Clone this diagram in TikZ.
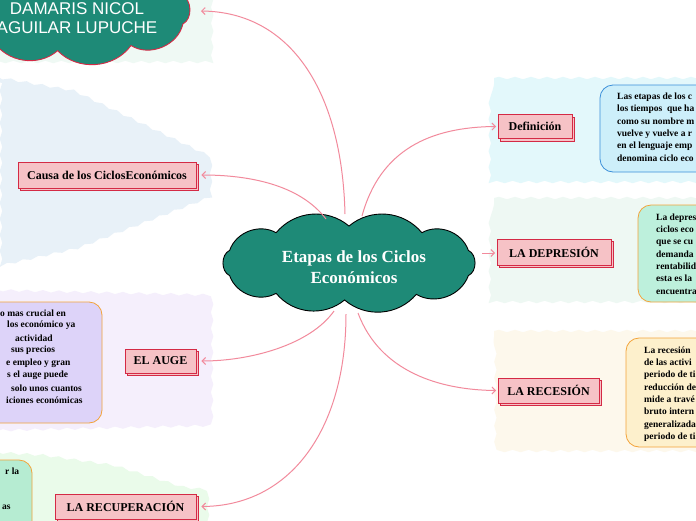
\documentclass[tikz,border=0pt]{standalone}
\usepackage{fontspec}
\setmainfont{Liberation Serif}
\newfontfamily\arialf{Liberation Sans}
\usetikzlibrary{shadows,arrows.meta,decorations.pathmorphing}
\definecolor{tealc}{HTML}{1E8A77}
\definecolor{boxpink}{HTML}{F6C2C6}
\definecolor{boxred}{HTML}{D42A45}
\definecolor{connc}{HTML}{F28A9C}
\definecolor{bgA}{HTML}{EFF9F4}
\definecolor{bgB}{HTML}{E8F1F8}
\definecolor{bgC}{HTML}{E3F8FB}
\definecolor{bgD}{HTML}{EEF8F3}
\definecolor{bgE}{HTML}{FDF8EC}
\definecolor{bgF}{HTML}{F5EFFC}
\definecolor{bgG}{HTML}{EAFBEA}
\definecolor{defFill}{HTML}{CDEFFA}
\definecolor{defLine}{HTML}{3B8FD9}
\definecolor{depFill}{HTML}{BDF0DC}
\definecolor{recFill}{HTML}{FDF0CC}
\definecolor{augFill}{HTML}{DDD3F9}
\definecolor{rcpFill}{HTML}{B6ECD2}
\definecolor{orangeLine}{HTML}{F3A33A}
\tikzset{
  region/.style={decorate, decoration={snake, amplitude=1.2pt, segment length=16pt}},
  pinkbox/.style={draw=boxred, fill=boxpink, line width=0.8pt, inner sep=0pt,
    font=\bfseries\fontsize{12}{14}\selectfont,
    copy shadow={shadow xshift=2.5pt, shadow yshift=-2.5pt}},
  conn/.style={draw=connc, line width=1pt, -{Straight Barb[length=3.5pt,width=7pt]}},
  descbox/.style={rounded corners=13pt, line width=0.8pt},
  desc/.style={font=\bfseries\fontsize{9.5}{12.3}\selectfont, align=left, inner sep=0pt},
  cloudline/.style={fill=tealc, line width=0.9pt},
}
\begin{document}
\begin{tikzpicture}[x=1pt,y=-1pt]
\useasboundingbox (0,0) rectangle (696,520);
\clip (0,0) rectangle (696,520);
\fill[white] (0,0) rectangle (696,520);
% background regions
\fill[bgA, region] (-10,-10) -- (206,-10) -- (206,62) -- (-10,62) -- cycle;
\fill[bgB, region] (-10,76) -- (70,90) -- (205,155) -- (205,198) -- (70,250) -- (-10,268) -- cycle;
\fill[bgC, region] (494,78) -- (706,78) -- (706,180) -- (494,180) -- cycle;
\fill[bgD, region] (494,198) -- (706,198) -- (706,300) -- (494,300) -- cycle;
\fill[bgE, region] (494,331) -- (706,331) -- (706,447) -- (494,447) -- cycle;
\fill[bgF, region] (-10,290) -- (206,295) -- (206,420) -- (-10,425) -- cycle;
\fill[bgG, region] (-10,452) -- (40,455) -- (110,465) -- (180,487) -- (206,490) -- (206,530) -- (-10,530) -- cycle;
% description boxes
\draw[descbox, fill=defFill, draw=defLine] (600,85) rectangle (730,172);
\draw[descbox, fill=depFill, draw=orangeLine] (638,205) rectangle (730,302);
\draw[descbox, fill=recFill, draw=orangeLine] (626,338) rectangle (730,447);
\draw[descbox, fill=augFill, draw=orangeLine] (-30,302) rectangle (102,423);
\draw[descbox, fill=rcpFill, draw=orangeLine] (-30,460) rectangle (32,545);
\node[desc, anchor=west] (tdef) at (617,127) {Las etapas de los c\\los tiempos~ que ha\\como su nombre m\\vuelve y vuelve a r\\en el lenguaje emp\\denomina ciclo eco};
\node[desc, anchor=west] (tdep) at (656,254) {La depres\\ciclos eco\\que se cu\\demanda\\rentabilid\\esta es la\\encuentra};
\node[desc, anchor=west] (trec) at (644,394) {La recesión\\de las activi\\periodo de ti\\reducción de\\mide a travé\\bruto intern\\generalizada\\periodo de ti};
\foreach \t/\xx [count=\i] in {o mas crucial en/0, los económico ya/7, actividad/15, sus precios/11, e empleo y gran/6, s el auge puede/7, solo unos cuantos/11, iciones económicas/6}
  \node[desc, anchor=west] (taug\i) at (\xx,313+12.5*\i-12.5) {\t};
\node[desc, anchor=west] (trcp1) at (5,471) {r la};
\node[desc, anchor=west] (trcp2) at (2,507) {as};
% DAMARIS cloud (drawn as puffs around an ellipse)
\begin{scope}[shift={(72,10)}]
\draw[cloudline, draw=boxred]
  (-22:118 and 41) to[bend left=65] (20:118 and 41) to[bend left=55] (60:118 and 41)
  to[bend left=50] (97:118 and 41) to[bend left=50] (132:118 and 41)
  to[bend left=60] (170:118 and 41) to[bend left=60] (210:118 and 41)
  to[bend left=50] (250:118 and 41) to[bend left=50] (290:118 and 41)
  to[bend left=55] (338:118 and 41) -- cycle;
\end{scope}
\coordinate (damE) at (200,11);
\node[font=\arialf\fontsize{17}{19}\selectfont, text=white, align=center] (damt) at (77,18) {DAMARIS NICOL\\AGUILAR LUPUCHE};
% central cloud
\begin{scope}[shift={(349,263)}]
\draw[cloudline, draw=black]
  (-20:127 and 37) to[bend left=65] (20:127 and 37) to[bend left=50] (58:127 and 37)
  to[bend left=45] (92:127 and 37) to[bend left=45] (125:127 and 37)
  to[bend left=50] (160:127 and 37) to[bend left=65] (200:127 and 37)
  to[bend left=50] (235:127 and 37) to[bend left=45] (270:127 and 37)
  to[bend left=45] (305:127 and 37) to[bend left=50] (340:127 and 37) -- cycle;
\end{scope}
\node[font=\bfseries\fontsize{17}{21}\selectfont, text=white, align=center] (cct) at (354,267.5) {Etapas de los Ciclos\\Económicos};
% pink boxes
\node[pinkbox, minimum width=178pt, minimum height=26pt] (causa) at (107,175) {Causa de los CiclosEconómicos};
\node[pinkbox, minimum width=74pt, minimum height=24pt] (def) at (535,126.5) {Definición};
\node[pinkbox, minimum width=114pt, minimum height=26pt] (dep) at (554,252) {LA DEPRESIÓN};
\node[pinkbox, minimum width=101pt, minimum height=25pt] (rec) at (548.5,390.5) {LA RECESIÓN};
\node[pinkbox, minimum width=71pt, minimum height=24pt] (aug) at (160.5,361) {EL AUGE};
\node[pinkbox, minimum width=141pt, minimum height=25pt] (rcp) at (125.5,506.5) {LA RECUPERACIÓN};
% connector starts on the central cloud
\coordinate (s1) at (345,214);
\coordinate (s2) at (326,219);
\coordinate (s3) at (362,216);
\coordinate (s4) at (482,253);
\coordinate (s5) at (358,313);
\coordinate (s6) at (334,311);
\coordinate (s7) at (346,314);
% connectors
\draw[conn, shorten >=1pt] (s1) .. controls (342,90) and (290,12) .. (damE);
\draw[conn, shorten >=5pt] (s2) .. controls (300,185) and (250,175) .. (causa.east);
\draw[conn, shorten >=1.5pt] (s3) .. controls (380,150) and (430,127) .. (def.west);
\draw[conn, shorten >=1.5pt] (s4) -- (dep.west |- s4);
\draw[conn, shorten >=1.5pt] (s5) .. controls (380,372) and (440,390) .. (rec.west);
\draw[conn, shorten >=5pt] (s6) .. controls (310,345) and (250,361) .. (aug.east);
\draw[conn, shorten >=5pt] (s7) .. controls (346,430) and (290,506) .. (rcp.east);
\end{tikzpicture}
\end{document}
